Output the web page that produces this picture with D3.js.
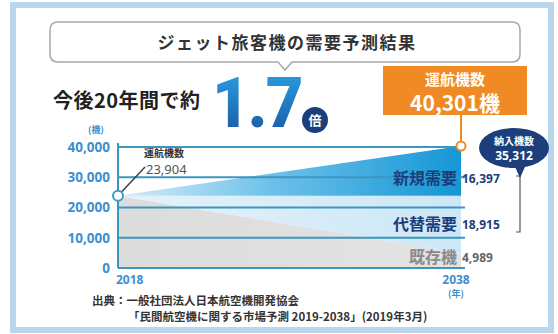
<!DOCTYPE html>
<html>
<head>
<meta charset="utf-8">
<script src="https://cdn.jsdelivr.net/npm/d3@7"></script>
<style>
  html, body { margin: 0; padding: 0; background: #fff; }
  svg { display: block; font-family: "Noto Sans CJK JP", "Noto Sans", sans-serif; }
</style>
</head>
<body>
<svg id="chart" width="558" height="334"></svg>
<script>
// Fleet forecast, 2018 → 2038 (aircraft)
const years = [2018, 2038];
const existingFleet = [23904, 4989];     // 既存機
const replacementDemand = [0, 18915];    // 代替需要
const newDemand = [0, 16397];            // 新規需要
const yTicks = [0, 10000, 20000, 30000, 40000];
const yTickLabels = ["0", "10,000", "20,000", "30,000", "40,000"];
const seriesNames = ["既存機", "代替需要", "新規需要"];

const svg = d3.select("#chart");
const defs = svg.append("defs");

// outer frame
svg.append("rect").attr("x", 13).attr("y", 5).attr("width", 538).attr("height", 325)
  .attr("fill", "#fff").attr("stroke", "#b9d6ec").attr("stroke-width", 6);

// scales
const x = d3.scaleLinear().domain([2018, 2038]).range([118, 461]);
const y = d3.scaleLinear().domain([0, 40000]).range([268, 147]);

// stacked values
const rows = years.map((yr, i) => ({
  year: yr,
  existing: existingFleet[i],
  replacement: replacementDemand[i],
  added: newDemand[i]
}));
const stack = d3.stack().keys(["existing", "replacement", "added"]);
const layers = stack(rows);

// gradients
function hGrad(id, stops) {
  const g = defs.append("linearGradient").attr("id", id)
    .attr("x1", "0").attr("y1", "0").attr("x2", "1").attr("y2", "0");
  stops.forEach(([o, c]) => g.append("stop").attr("offset", o).attr("stop-color", c));
}
hGrad("gExisting", [[0, "#dcdcdc"], [1, "#e3e3e3"]]);
hGrad("gReplace", [[0, "#e4f2fa"], [1, "#cde7f6"]]);
const gNew = defs.append("linearGradient").attr("id", "gNew")
  .attr("gradientUnits", "userSpaceOnUse")
  .attr("x1", x(2018)).attr("y1", 160).attr("x2", x(2038)).attr("y2", 190);
[[0, "#d9eef9"], [0.45, "#6cc1ea"], [1, "#1496d5"]].forEach(([o, c]) =>
  gNew.append("stop").attr("offset", o).attr("stop-color", c));

const fills = ["url(#gExisting)", "url(#gReplace)", "url(#gNew)"];

const area = d3.area()
  .x(d => x(d.data.year))
  .y0(d => y(d[0]))
  .y1(d => y(d[1]));

svg.append("g").selectAll("path").data(layers).join("path")
  .attr("d", area)
  .attr("fill", (d, i) => fills[i]);

// gridlines over the areas
svg.append("g").selectAll("line").data(yTicks).join("line")
  .attr("x1", x(2018)).attr("x2", 465)
  .attr("y1", d => y(d)).attr("y2", d => y(d))
  .attr("stroke", "#3d96c0").attr("stroke-width", 2);

// y axis
const yAxis = d3.axisLeft(y).tickValues(yTicks)
  .tickFormat((d, i) => yTickLabels[i]).tickSize(0).tickPadding(8);
const yg = svg.append("g").attr("transform", `translate(${x(2018)},0)`).call(yAxis);
yg.select(".domain").attr("stroke", "#3d96c0").attr("stroke-width", 2)
  .attr("d", `M0,${y(0)}V${y(40000) - 4}`);
yg.selectAll("text").attr("fill", "#3d8fcf").attr("font-size", 13.5).attr("font-weight", 700)
  .attr("font-family", "'Noto Sans', sans-serif");
svg.append("text").attr("x", 96).attr("y", 133).attr("text-anchor", "middle")
  .attr("font-size", 9).attr("font-weight", 700).attr("fill", "#3d8fcf").text("(機)");

// x labels
svg.append("text").attr("x", x(2018) - 2).attr("y", 284)
  .attr("font-size", 12).attr("font-weight", 700).attr("fill", "#3d8fcf")
  .attr("font-family", "'Noto Sans', sans-serif").text(years[0]);
svg.append("text").attr("x", x(2038) - 5).attr("y", 284).attr("text-anchor", "middle")
  .attr("font-size", 12).attr("font-weight", 700).attr("fill", "#3d8fcf")
  .attr("font-family", "'Noto Sans', sans-serif").text(years[1]);
svg.append("text").attr("x", x(2038) - 5).attr("y", 297).attr("text-anchor", "middle")
  .attr("font-size", 9).attr("font-weight", 700).attr("fill", "#3d8fcf").text("(年)");

// start point annotation
const total0 = layers[2][0][1];
svg.append("line").attr("x1", x(2018)).attr("y1", y(total0))
  .attr("x2", 145).attr("y2", 167).attr("stroke", "#345").attr("stroke-width", 1.5);
svg.append("circle").attr("cx", x(2018)).attr("cy", y(total0)).attr("r", 5)
  .attr("fill", "#fff").attr("stroke", "#3d9ac6").attr("stroke-width", 2);
svg.append("text").attr("x", 144).attr("y", 157).attr("font-size", 10).attr("font-weight", 700)
  .attr("fill", "#333").text("運航機数");
svg.append("text").attr("x", 146).attr("y", 174).attr("font-size", 13)
  .attr("fill", "#555").attr("font-family", "'Noto Sans', sans-serif")
  .text(d3.format(",")(total0));

// end point total
const total1 = layers[2][1][1];

// series labels at the right end
const labelY = [263, 230, 184];
const nameColors = ["#8a8a8a", "#1d3d7a", "#1d3d7a"];
const endVals = [existingFleet[1], replacementDemand[1], newDemand[1]];
seriesNames.forEach((n, i) => {
  svg.append("text").attr("x", 457).attr("y", labelY[i]).attr("text-anchor", "end")
    .attr("font-size", 16).attr("font-weight", 700).attr("fill", nameColors[i]).text(n);
  svg.append("text").attr("x", 462).attr("y", labelY[i] - 1)
    .attr("font-size", 12).attr("font-weight", 700).attr("fill", i === 0 ? "#666" : "#1d3d7a")
    .attr("font-family", "'Noto Sans', sans-serif").text(d3.format(",")(endVals[i]));
});

// bracket for deliveries
const navy = "#1c3f7c";
svg.append("path").attr("d", "M516,176 L520,176 L520,232 L516,232")
  .attr("fill", "none").attr("stroke", "#555").attr("stroke-width", 1.2);
svg.append("path").attr("d", "M512,160 L520,178 L528,160 Z").attr("fill", navy);
svg.append("ellipse").attr("cx", 514).attr("cy", 148).attr("rx", 35).attr("ry", 20).attr("fill", navy);
svg.append("text").attr("x", 514).attr("y", 145).attr("text-anchor", "middle")
  .attr("font-size", 10).attr("font-weight", 700).attr("fill", "#fff").text("納入機数");
svg.append("text").attr("x", 514).attr("y", 160).attr("text-anchor", "middle")
  .attr("font-size", 12).attr("font-weight", 700).attr("fill", "#fff")
  .attr("font-family", "'Noto Sans', sans-serif")
  .text(d3.format(",")(replacementDemand[1] + newDemand[1]));

// orange callout
svg.append("line").attr("x1", x(2038)).attr("y1", 112).attr("x2", x(2038)).attr("y2", y(total1))
  .attr("stroke", "#f08a24").attr("stroke-width", 2);
svg.append("rect").attr("x", 383).attr("y", 66).attr("width", 144).attr("height", 49).attr("fill", "#f08a24");
svg.append("circle").attr("cx", x(2038)).attr("cy", y(total1)).attr("r", 4.5)
  .attr("fill", "#fff").attr("stroke", "#f08a24").attr("stroke-width", 2);
svg.append("text").attr("x", 455).attr("y", 85).attr("text-anchor", "middle")
  .attr("font-size", 15).attr("font-weight", 700).attr("fill", "#fff").text("運航機数");
svg.append("text").attr("x", 455).attr("y", 111).attr("text-anchor", "middle")
  .attr("font-size", 21).attr("font-weight", 700).attr("fill", "#fff")
  .text(d3.format(",")(total1) + "機");

// title box
svg.append("path")
  .attr("d", "M58,22 H512 Q520,22 520,30 V54 Q520,62 512,62 H292 L285,70 L278,62 H58 Q50,62 50,54 V30 Q50,22 58,22 Z")
  .attr("fill", "#fff").attr("stroke", "#a9a9a9").attr("stroke-width", 1.5);
svg.append("text").attr("x", 287).attr("y", 49).attr("text-anchor", "middle")
  .attr("font-size", 17).attr("font-weight", 700).attr("letter-spacing", 1.5)
  .attr("fill", "#333").text("ジェット旅客機の需要予測結果");

// headline
svg.append("text").attr("x", 53).attr("y", 108).attr("font-size", 20).attr("font-weight", 700)
  .attr("letter-spacing", 0.5).attr("fill", "#222").text("今後20年間で約");
const gBig = defs.append("linearGradient").attr("id", "gBig")
  .attr("x1", "0").attr("y1", "0").attr("x2", "0").attr("y2", "1");
[[0, "#2ba9e8"], [1, "#1a4f9c"]].forEach(([o, c]) => gBig.append("stop").attr("offset", o).attr("stop-color", c));
svg.append("text").attr("transform", "translate(212,127) scale(0.93,1)")
  .attr("font-size", 70).attr("font-weight", 900)
  .attr("font-family", "Roboto, 'Noto Sans', sans-serif").attr("letter-spacing", -2)
  .attr("fill", "url(#gBig)").text((total1 / total0).toFixed(1));
svg.append("circle").attr("cx", 315).attr("cy", 120).attr("r", 13).attr("fill", navy);
svg.append("text").attr("x", 315).attr("y", 125).attr("text-anchor", "middle")
  .attr("font-size", 13).attr("font-weight", 700).attr("fill", "#fff").text("倍");

// source
svg.append("text").attr("x", 92).attr("y", 305).attr("font-size", 11.5).attr("font-weight", 700)
  .attr("fill", "#333").text("出典：一般社団法人日本航空機開発協会");
svg.append("text").attr("x", 128).attr("y", 321).attr("font-size", 11.5).attr("font-weight", 700)
  .attr("fill", "#333").text("「民間航空機に関する市場予測 2019-2038」(2019年3月)");
</script>
</body>
</html>
